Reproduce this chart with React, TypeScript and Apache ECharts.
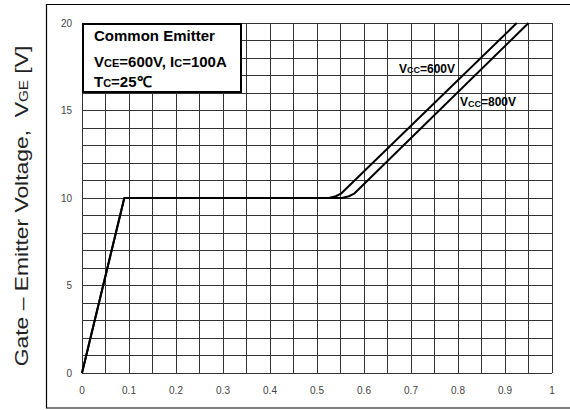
import React, { useEffect, useRef } from 'react';
import * as echarts from 'echarts';

// Gate charge characteristics: Gate-Emitter voltage vs. (normalized) gate charge
const yTickValues = [0, 5, 10, 15, 20];
const xTickValues = [0, 0.1, 0.2, 0.3, 0.4, 0.5, 0.6, 0.7, 0.8, 0.9, 1];

const x600 = [0, 0.09, 0.525, 0.54, 0.552, 0.925];
const y600 = [0, 10, 10, 10.1, 10.27, 20];

const x800 = [0, 0.09, 0.553, 0.568, 0.58, 0.95];
const y800 = [0, 10, 10, 10.1, 10.27, 20];

const FONT = '"Liberation Sans", Arial, Helvetica, sans-serif';

export default function App() {
  const ref = useRef<HTMLDivElement>(null);

  useEffect(() => {
    if (!ref.current) return;
    const chart = echarts.init(ref.current, null, { renderer: 'svg' });
    const gridLine = { show: true, lineStyle: { color: '#333', width: 1, type: 'solid' } };
    const toPairs = (xs: number[], ys: number[]) => xs.map((x, i) => [x, ys[i]]);

    chart.setOption({
      animation: false,
      backgroundColor: '#fff',
      grid: { left: 82, top: 23, right: 18, bottom: 37, containLabel: false },
      xAxis: {
        type: 'value',
        min: 0,
        max: 1,
        interval: 0.1,
        axisLine: { show: false },
        axisTick: { show: false },
        splitLine: gridLine,
        minorTick: { show: false, splitNumber: 2 },
        minorSplitLine: gridLine,
        axisLabel: {
          margin: 12,
          fontSize: 10,
          color: '#444',
          fontFamily: FONT,
          formatter: (v: number) => {
            const r = Math.round(v * 10) / 10;
            return xTickValues.includes(r) ? String(r) : '';
          },
        },
      },
      yAxis: {
        type: 'value',
        min: 0,
        max: 20,
        interval: 5,
        axisLine: { show: false },
        axisTick: { show: false },
        splitLine: gridLine,
        minorTick: { show: false, splitNumber: 5 },
        minorSplitLine: gridLine,
        axisLabel: {
          margin: 10,
          fontSize: 10,
          color: '#444',
          fontFamily: FONT,
          formatter: (v: number) => (yTickValues.includes(v) ? String(v) : ''),
        },
      },
      series: [
        {
          name: 'VCC=600V',
          type: 'line',
          data: toPairs(x600, y600),
          symbol: 'none',
          silent: true,
          lineStyle: { color: '#000', width: 2 },
          z: 3,
        },
        {
          name: 'VCC=800V',
          type: 'line',
          data: toPairs(x800, y800),
          symbol: 'none',
          silent: true,
          lineStyle: { color: '#000', width: 2 },
          z: 3,
        },
      ],
      graphic: [
        {
          type: 'rect',
          z: 1,
          shape: { x: 46.5, y: 4.5, width: 560, height: 403.5 },
          style: { fill: 'none', stroke: '#000', lineWidth: 1.2 },
        },
        {
          type: 'rect',
          z: 10,
          shape: { x: 83, y: 24, width: 158, height: 68 },
          style: { fill: '#fff', stroke: '#000', lineWidth: 2 },
        },
        {
          type: 'text',
          z: 11,
          x: 94,
          y: 35.5,
          style: {
            text: 'Common Emitter',
            font: `bold 15px ${FONT}`,
            fill: '#000',
            align: 'left',
            verticalAlign: 'middle',
          },
        },
        {
          type: 'text',
          z: 11,
          x: 94,
          y: 61,
          style: {
            text: '{n|V}{s|CE}{n|=600V, I}{s|C}{n|=100A}',
            align: 'left',
            verticalAlign: 'middle',
            rich: {
              n: { font: `bold 15px ${FONT}`, fill: '#000', verticalAlign: 'bottom' },
              s: { font: `bold 11px ${FONT}`, fill: '#000', verticalAlign: 'bottom' },
            },
          },
        },
        {
          type: 'text',
          z: 11,
          x: 94,
          y: 81,
          style: {
            text: '{n|T}{s|C}{n|=25℃}',
            align: 'left',
            verticalAlign: 'middle',
            rich: {
              n: { font: `bold 15px ${FONT}`, fill: '#000', verticalAlign: 'bottom' },
              s: { font: `bold 11px ${FONT}`, fill: '#000', verticalAlign: 'bottom' },
            },
          },
        },
        {
          type: 'text',
          z: 11,
          x: 455,
          y: 68.5,
          style: {
            text: '{n|V}{s|CC}{n|=600V}',
            align: 'right',
            verticalAlign: 'middle',
            rich: {
              n: { font: `bold 12px ${FONT}`, fill: '#000', verticalAlign: 'bottom' },
              s: { font: `bold 9px ${FONT}`, fill: '#000', verticalAlign: 'bottom' },
            },
          },
        },
        {
          type: 'text',
          z: 11,
          x: 460,
          y: 102,
          style: {
            text: '{n|V}{s|CC}{n|=800V}',
            align: 'left',
            verticalAlign: 'middle',
            rich: {
              n: { font: `bold 12px ${FONT}`, fill: '#000', verticalAlign: 'bottom' },
              s: { font: `bold 9px ${FONT}`, fill: '#000', verticalAlign: 'bottom' },
            },
          },
        },
        {
          type: 'text',
          z: 11,
          x: 21,
          y: 206,
          rotation: Math.PI / 2,
          scaleX: 1.27,
          style: {
            text: '{n|Gate – Emitter Voltage,  V}{s|GE}{n| [V]}',
            align: 'center',
            verticalAlign: 'middle',
            rich: {
              n: { font: `18px ${FONT}`, fill: '#222', verticalAlign: 'bottom' },
              s: { font: `12px ${FONT}`, fill: '#222', verticalAlign: 'bottom' },
            },
          },
        },
      ],
    });

    return () => chart.dispose();
  }, []);

  return (
    <div
      ref={ref}
      style={{ position: 'fixed', left: 0, top: 0, width: 570, height: 410, background: '#fff' }}
    />
  );
}
